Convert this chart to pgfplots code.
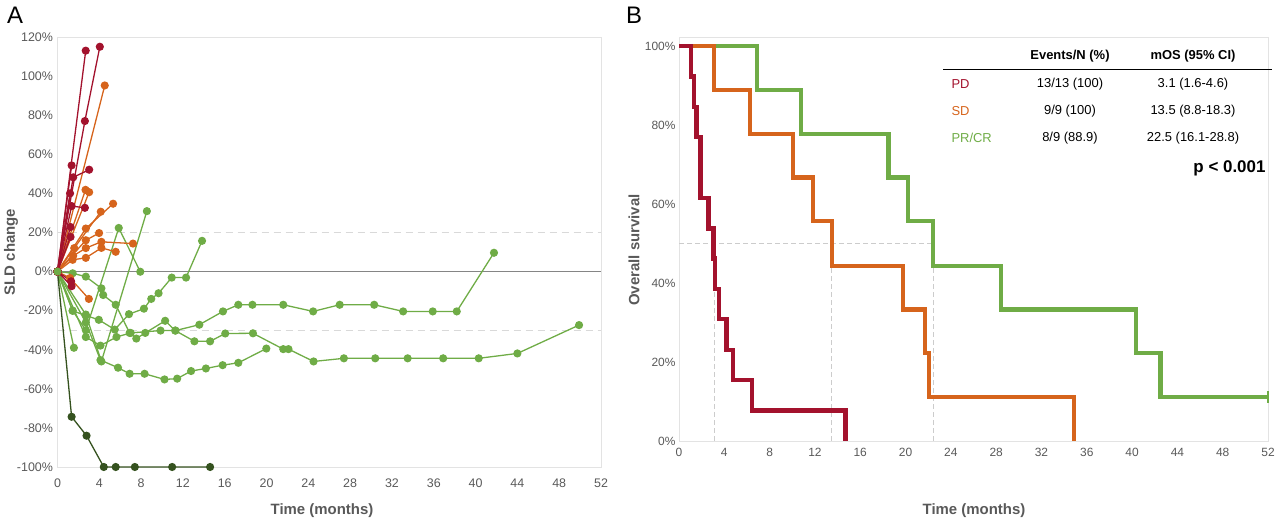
\documentclass[border=0pt]{standalone}
\usepackage{pgfplots}
\pgfplotsset{compat=1.18}
\usepackage{fontspec}
\setmainfont{Liberation Sans}
\definecolor{pdred}{HTML}{A3122D}
\definecolor{sdorange}{HTML}{D6641C}
\definecolor{prgreen}{HTML}{6FAC46}
\definecolor{crgreen}{HTML}{35521F}
\definecolor{txtgray}{HTML}{595959}
\definecolor{framegray}{HTML}{E3E3E3}
\begin{document}
\begin{tikzpicture}[x=1bp,y=1bp]
\path[use as bounding box] (0,0) rectangle (1280,520);
\pgfplotsset{
  spider/.style={line width=1.3bp, mark=*, mark size=3.4bp},
  kmline/.style={const plot mark left, line width=4.2bp, mark=none},
  medline/.style={dashed, draw=black!20, line width=0.9bp, dash pattern=on 5bp off 3bp},
}
% ---------------- Panel A ----------------
\begin{axis}[at={(57.5bp,53bp)}, anchor=south west, scale only axis,
  width=543.5bp, height=430bp,
  xmin=0, xmax=52, ymin=-100, ymax=120,
  xtick={0,4,...,52}, ytick={-100,-80,...,120},
  axis line style={draw=framegray, line width=0.8bp},
  tick style={draw=none},
  /pgf/number format/assume math mode=true,
  yticklabel={\pgfmathprintnumber{\tick}\%},
  ticklabel style={font=\fontsize{12.5}{14}\selectfont, text=txtgray},
  xticklabel style={yshift=-8bp},
  yticklabel style={xshift=-1bp},
  clip=false]
\addplot[draw=black!48, line width=1bp, mark=none] coordinates {(0,0)(52,0)};
\addplot[dashed, draw=black!15, line width=1bp, dash pattern=on 7bp off 5bp, mark=none] coordinates {(0,20)(52,20)};
\addplot[dashed, draw=black!15, line width=1bp, dash pattern=on 7bp off 5bp, mark=none] coordinates {(0,-30)(52,-30)};
% green (PR/CR)
\addplot[spider, color=prgreen] coordinates {(0,0)(2.71,-22)(4.2,-46)(8.55,30.9)};
\addplot[spider, color=prgreen] coordinates {(0,0)(1.45,-20)(2.71,-30)(5.86,22.3)(7.92,-0.1)};
\addplot[spider, color=prgreen] coordinates {(0,0)(1.45,-20.1)(2.71,-22.5)(3.95,-24.7)(5.48,-29.7)(6.84,-21.8)(8.27,-19)(8.97,-14)(9.67,-11.1)(10.93,-3.1)(12.3,-3.1)(13.83,15.7)};
\addplot[spider, color=prgreen] coordinates {(0,0)(1.45,-0.9)(2.71,-2.6)(4.2,-8.6)(4.37,-12)(5.57,-17)(6.9,-31.4)(7.54,-34.3)(8.4,-31.4)(10.3,-25.2)(11.26,-30.2)(13.1,-35.7)(14.6,-35.7)(16.05,-31.7)(18.7,-31.6)(21.6,-39.7)(22.1,-39.7)(24.5,-46)(27.4,-44.4)(30.4,-44.4)(33.5,-44.4)(36.9,-44.4)(40.3,-44.4)(44.0,-41.9)(49.9,-27.4)};
\addplot[spider, color=prgreen] coordinates {(0,0)(2.71,-33.5)(4.11,-37.9)(5.64,-33.5)(7.0,-31.4)(9.86,-30.2)(11.29,-30.2)(13.57,-27.2)(15.83,-20.4)(17.3,-17)(18.65,-17)(21.6,-17)(24.46,-20.4)(27.0,-17)(30.3,-17)(33.07,-20.4)(35.9,-20.4)(38.2,-20.4)(41.76,9.6)};
\addplot[spider, color=prgreen] coordinates {(0,0)(2.71,-26)(4.11,-45.3)(5.79,-49.2)(6.9,-52.3)(8.33,-52.3)(10.24,-55.2)(11.45,-54.8)(12.78,-50.9)(14.2,-49.6)(15.8,-47.9)(17.3,-46.7)(19.98,-39.4)};
\addplot[spider, color=prgreen] coordinates {(0,0)(1.57,-39)};
% dark green (CR)
\addplot[spider, color=crgreen] coordinates {(0,0)(1.35,-74.3)(2.78,-84)(4.43,-100)(5.57,-100)(7.4,-100)(10.97,-100)(14.6,-100)};
% orange (SD)
\addplot[spider, color=sdorange] coordinates {(0,0)(4.52,95.2)};
\addplot[spider, color=sdorange] coordinates {(0,0)(2.68,41.8)};
\addplot[spider, color=sdorange] coordinates {(0,0)(3.03,40.6)};
\addplot[spider, color=sdorange] coordinates {(0,0)(2.71,22)(5.32,34.7)};
\addplot[spider, color=sdorange] coordinates {(0,0)(1.6,12)(4.14,30.6)};
\addplot[spider, color=sdorange] coordinates {(0,0)(2.71,16)(3.98,19.7)};
\addplot[spider, color=sdorange] coordinates {(0,0)(1.5,8)(2.71,12)(4.2,15.2)(7.22,14.3)};
\addplot[spider, color=sdorange] coordinates {(0,0)(1.45,6)(2.71,7)(4.2,12.1)(5.57,10.1)};
\addplot[spider, color=sdorange] coordinates {(0,0)(1.2,-3.3)(3.0,-14)};
% red (PD)
\addplot[spider, color=pdred] coordinates {(0,0)(2.7,113)};
\addplot[spider, color=pdred] coordinates {(0,0)(2.62,77)(4.05,115)};
\addplot[spider, color=pdred] coordinates {(0,0)(1.35,54.3)};
\addplot[spider, color=pdred] coordinates {(0,0)(1.5,48.2)(3.03,52.1)};
\addplot[spider, color=pdred] coordinates {(0,0)(1.2,40)};
\addplot[spider, color=pdred] coordinates {(0,0)(1.35,33.5)(2.62,32.6)};
\addplot[spider, color=pdred] coordinates {(0,0)(1.25,22.8)};
\addplot[spider, color=pdred] coordinates {(0,0)(1.25,17.7)};
\addplot[spider, color=pdred] coordinates {(0,0)(1.3,-5)};
\addplot[spider, color=pdred] coordinates {(0,0)(1.35,-7.5)};
% origin marker in green
\addplot[spider, color=prgreen] coordinates {(0,0)};
\end{axis}
% ---------------- Panel B ----------------
\begin{axis}[at={(679bp,79bp)}, anchor=south west, scale only axis,
  width=589bp, height=404bp,
  xmin=0, xmax=52, ymin=0, ymax=102.28,
  xtick={0,4,...,52}, ytick={0,20,...,100},
  axis line style={draw=framegray, line width=0.8bp},
  tick style={draw=none},
  /pgf/number format/assume math mode=true,
  yticklabel={\pgfmathprintnumber{\tick}\%},
  ticklabel style={font=\fontsize{12}{13}\selectfont, text=txtgray},
  xticklabel style={yshift=-4bp},
  clip=false]
\addplot[medline] coordinates {(0,50)(22.5,50)};
\addplot[medline] coordinates {(3.1,0)(3.1,50)};
\addplot[medline] coordinates {(13.5,0)(13.5,50)};
\addplot[medline] coordinates {(22.5,0)(22.5,50)};
\addplot[kmline, color=prgreen] coordinates {(0,100)(6.85,88.9)(10.75,77.8)(18.5,66.7)(20.25,55.6)(22.45,44.4)(28.45,33.3)(40.35,22.2)(42.5,11.1)(52,11.1)};
\addplot[color=prgreen, line width=1.2bp, mark=|, mark size=6bp, only marks] coordinates {(52,11.1)};
\addplot[kmline, color=sdorange] coordinates {(0,100)(3.08,88.9)(6.3,77.8)(10.05,66.7)(11.85,55.6)(13.5,44.4)(19.75,33.3)(21.7,22.2)(22.05,11.1)(34.85,11.1)(34.85,0)};
\addplot[kmline, color=pdred] coordinates {(0,100)(1.05,92.3)(1.3,84.6)(1.55,76.9)(1.9,61.5)(2.6,53.8)(3.05,46.2)(3.18,38.5)(3.5,30.8)(4.2,23.1)(4.75,15.4)(6.45,7.7)(14.7,7.7)(14.7,0)};
\end{axis}
% ---------------- Texts ----------------
\node[font=\fontsize{24}{26}\selectfont] at (15,505) {A};
\node[font=\fontsize{24}{26}\selectfont] at (634,505) {B};
\node[rotate=90, font=\bfseries\fontsize{15}{17}\selectfont, text=txtgray] at (11,268) {SLD change};
\node[font=\bfseries\fontsize{15}{17}\selectfont, text=txtgray] at (322,9) {Time (months)};
\node[rotate=90, font=\bfseries\fontsize{15}{17}\selectfont, text=txtgray] at (634,270) {Overall survival};
\node[font=\bfseries\fontsize{15}{17}\selectfont, text=txtgray] at (974,9) {Time (months)};
% table
\begin{scope}[every node/.style={font=\fontsize{13}{15}\selectfont}]
\node[font=\bfseries\fontsize{13}{15}\selectfont] at (1070,464) {Events/N (\%)};
\node[font=\bfseries\fontsize{13}{15}\selectfont] at (1193,464) {mOS (95\% CI)};
\draw[line width=1bp] (943,450) -- (1272,450);
\node[anchor=west, text=pdred] at (948,436) {PD};
\node at (1070,436) {13/13 (100)};
\node at (1193,436) {3.1 (1.6-4.6)};
\node[anchor=west, text=sdorange] at (948,409) {SD};
\node at (1070,409) {9/9 (100)};
\node at (1193,409) {13.5 (8.8-18.3)};
\node[anchor=west, text=prgreen] at (948,382) {PR/CR};
\node at (1070,382) {8/9 (88.9)};
\node at (1193,382) {22.5 (16.1-28.8)};
\node[anchor=east, font=\bfseries\fontsize{17}{19}\selectfont] at (1269,352) {p < 0.001};
\end{scope}
\end{tikzpicture}
\end{document}
